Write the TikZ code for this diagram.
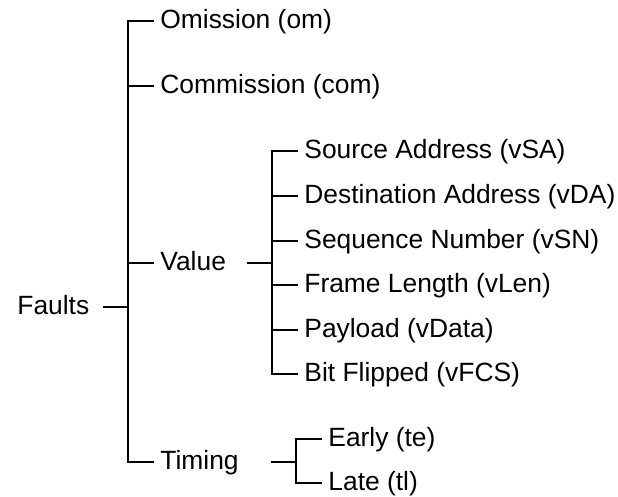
\documentclass[tikz,border=0pt]{standalone}
\usepackage{fontspec}
\setmainfont{Liberation Sans}
\usetikzlibrary{calc}

\tikzset{
  leaf/.style={anchor=west, inner xsep=3.5pt, inner ysep=0pt,
    text height=0.716em, text depth=0pt,
    font=\fontsize{13.2pt}{15pt}\selectfont},
  branch/.style={line width=1.45pt, line cap=rect}
}

\begin{document}
\begin{tikzpicture}[x=0.5pt,y=-0.5pt]
\useasboundingbox (0,0) rectangle (618,497);

% Racine
\node[leaf] (faults) at (10,307) {Faults};

% Niveau 1
\node[leaf] (om)  at (153,21)  {Omission (om)};
\node[leaf] (com) at (153,86)  {Commission (com)};
\node[leaf] (val) at (153,263) {Value};
\node[leaf] (tim) at (153,462) {Timing};

% Niveau 2 : valeur
\node[leaf] (vsa)  at (297,151) {Source Address (vSA)};
\node[leaf] (vda)  at (297,196) {Destination Address (vDA)};
\node[leaf] (vsn)  at (297,241) {Sequence Number (vSN)};
\node[leaf] (vlen) at (297,285) {Frame Length (vLen)};
\node[leaf] (vdat) at (297,330) {Payload (vData)};
\node[leaf] (vfcs) at (297,374) {Bit Flipped (vFCS)};

% Niveau 2 : temps
\node[leaf] (te) at (321,439) {Early (te)};
\node[leaf] (tl) at (321,483) {Late (tl)};

% Jonctions
\coordinate (j0) at (128,307);
\coordinate (j1) at (272,263);
\coordinate (j2) at (296,462);

% Accolades
\draw[branch] (om.west) -| (j0) |- (tim.west);
\draw[branch] (com.west) -- (com.west -| j0);
\draw[branch] (val.west) -- (val.west -| j0);
\draw[branch] ($(j0)+(-24,0)$) -- (j0);

\draw[branch] (vsa.west) -| (j1) |- (vfcs.west);
\foreach \n in {vda,vsn,vlen,vdat}
  \draw[branch] (\n.west) -- (\n.west -| j1);
\draw[branch] ($(j1)+(-24,0)$) -- (j1);

\draw[branch] (te.west) -| (j2) |- (tl.west);
\draw[branch] ($(j2)+(-24,0)$) -- (j2);
\end{tikzpicture}
\end{document}
